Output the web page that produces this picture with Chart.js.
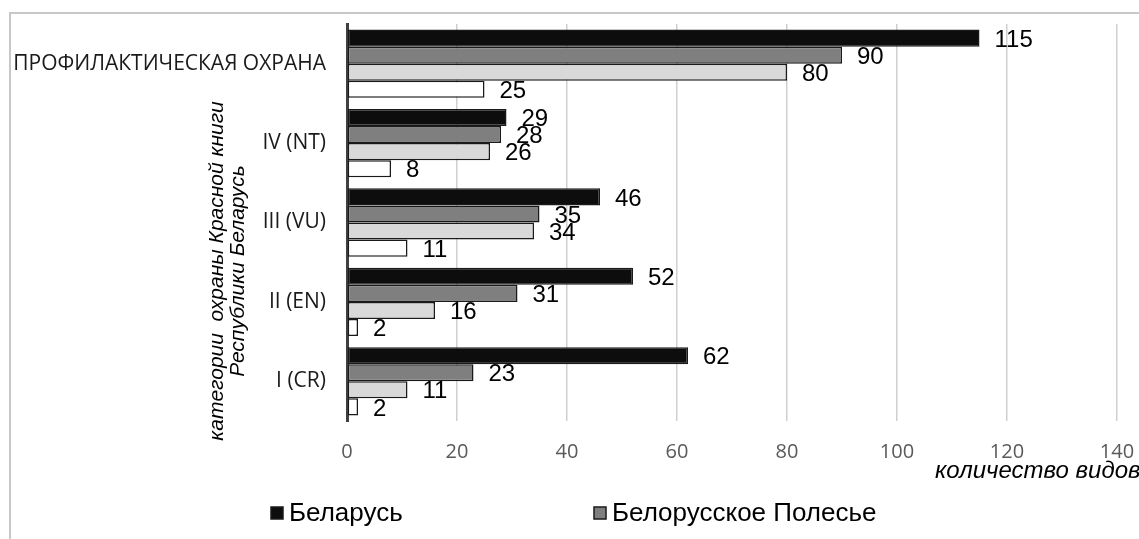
<!DOCTYPE html>
<html>
<head>
<meta charset="utf-8">
<script src="https://cdn.jsdelivr.net/npm/chart.js@4/dist/chart.umd.min.js"></script>
<style>
    html, body { margin: 0; padding: 0; background: #fff; }
    #wrap { width: 1139px; height: 539px; position: relative; }
</style>
</head>
<body>
<div id="wrap"><canvas id="myChart" width="1139" height="539"></canvas></div>
<script>
const categories = ['ПРОФИЛАКТИЧЕСКАЯ ОХРАНА', 'IV (NT)', 'III (VU)', 'II (EN)', 'I (CR)'];
const belarus = [115, 29, 46, 52, 62];
const polesie = [90, 28, 35, 31, 23];
const series3 = [80, 26, 34, 16, 11];
const series4 = [25, 8, 11, 2, 2];
const xTicks = [0, 20, 40, 60, 80, 100, 120, 140];

const seriesNames = ['Беларусь', 'Белорусское Полесье', 'Ряд 3', 'Ряд 4'];
const seriesColors = ['#0d0d0d', '#7f7f7f', '#d9d9d9', '#ffffff'];

const yTitle = ['категории  охраны Красной книги', 'Республики Беларусь'];
const xTitle = 'количество видов';

// frame, axis titles, value labels and the (cut off) legend
const extras = {
    id: 'extras',
    beforeDraw(chart) {
        const ctx = chart.ctx;
        ctx.save();
        ctx.fillStyle = '#fff';
        ctx.fillRect(0, 0, chart.width, chart.height);
        ctx.strokeStyle = '#c8c8c8';
        ctx.lineWidth = 2;
        ctx.beginPath();
        ctx.moveTo(chart.width, 13);
        ctx.lineTo(10, 13);
        ctx.lineTo(10, chart.height);
        ctx.stroke();
        ctx.restore();
    },
    afterDatasetsDraw(chart) {
        const ctx = chart.ctx;
        ctx.save();
        ctx.fillStyle = '#000';
        ctx.font = '24px "Liberation Sans", Arial, sans-serif';
        ctx.textAlign = 'left';
        ctx.textBaseline = 'middle';
        chart.data.datasets.forEach((ds, i) => {
            chart.getDatasetMeta(i).data.forEach((bar, j) => {
                ctx.fillText(String(ds.data[j]), bar.x + 15, bar.y + 2);
            });
        });
        ctx.restore();
    },
    afterDraw(chart) {
        const ctx = chart.ctx;
        ctx.save();
        ctx.fillStyle = '#000';
        ctx.textAlign = 'center';
        ctx.textBaseline = 'middle';

        // y axis title
        ctx.font = 'italic 21px "Liberation Sans", Arial, sans-serif';
        ctx.translate(0, 271);
        ctx.rotate(-Math.PI / 2);
        ctx.fillText(yTitle[0], 0, 217);
        ctx.fillText(yTitle[1], 0, 238);
        ctx.setTransform(1, 0, 0, 1, 0, 0);

        // x axis title
        ctx.font = 'italic 24px "Liberation Sans", Arial, sans-serif';
        ctx.textAlign = 'left';
        ctx.fillText(xTitle, 935, 471);

        // legend, only the first two entries fit in the picture
        const legendX = [271, 594];
        ctx.font = '26px "Liberation Sans", Arial, sans-serif';
        for (let i = 0; i < 2; i++) {
            ctx.fillStyle = seriesColors[i];
            ctx.fillRect(legendX[i], 507, 12, 12);
            ctx.strokeStyle = '#1a1a1a';
            ctx.lineWidth = 1.5;
            ctx.strokeRect(legendX[i], 507, 12, 12);
            ctx.fillStyle = '#000';
            ctx.fillText(seriesNames[i], legendX[i] + 18, 514);
        }
        ctx.restore();
    }
};

const datasets = [belarus, polesie, series3, series4].map((values, i) => ({
    label: seriesNames[i],
    data: values,
    backgroundColor: seriesColors[i],
    borderColor: '#1a1a1a',
    borderWidth: 1.5,
    borderSkipped: false,
    categoryPercentage: 0.86,
    barPercentage: 1.0
}));

// drop the label overflow padding so the layout padding alone places the plot
function noOverflow(scale) {
    scale.paddingTop = 0;
    scale.paddingBottom = 0;
    scale.paddingLeft = 0;
    scale.paddingRight = 0;
}

const ctx = document.getElementById('myChart').getContext('2d');
const myChart = new Chart(ctx, {
    type: 'bar',
    data: { labels: categories, datasets: datasets },
    options: {
        indexAxis: 'y',
        responsive: false,
        animation: false,
        layout: { padding: { top: 24, right: 22, left: 0, bottom: 0 } },
        plugins: {
            legend: { display: false },
            tooltip: { enabled: false }
        },
        scales: {
            x: {
                min: 0,
                max: 140,
                afterFit: (scale) => { scale.height = 118; noOverflow(scale); },
                afterBuildTicks: (scale) => { scale.ticks = xTicks.map(v => ({ value: v })); },
                border: { display: false },
                grid: { color: '#cfcfcf', lineWidth: 1.5, drawTicks: false },
                ticks: {
                    padding: 19,
                    color: '#595959',
                    font: { family: '"Open Sans", sans-serif', size: 20 }
                }
            },
            y: {
                afterFit: (scale) => { scale.width = 347; noOverflow(scale); },
                border: { display: true, color: '#404040', width: 3 },
                grid: { display: false, drawTicks: false },
                ticks: {
                    padding: 21,
                    color: '#1a1a1a',
                    font: { family: '"Open Sans", sans-serif', size: 21 }
                }
            }
        }
    },
    plugins: [extras]
});
</script>
</body>
</html>
